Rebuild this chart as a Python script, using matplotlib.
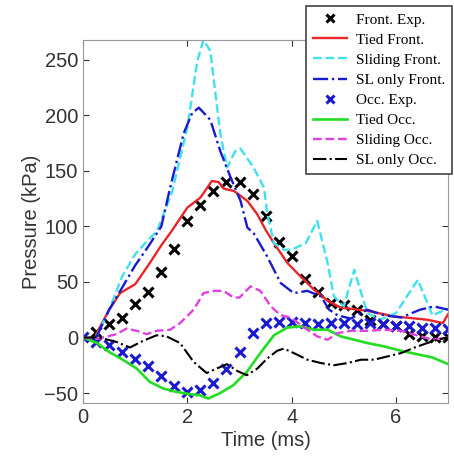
import numpy as np
import matplotlib.pyplot as plt

# experiment markers
exp_t = [0.25, 0.5, 0.75, 1.0, 1.25, 1.5, 1.75, 2.0, 2.25, 2.5, 2.75, 3.0, 3.25, 3.5,
         3.75, 4.0, 4.25, 4.5, 4.75, 5.0, 5.25, 5.5, 5.75, 6.0, 6.25, 6.5, 6.75, 7.0]
front_exp = [5, 12, 18, 30, 41, 59, 80, 105, 119, 132, 140, 140, 129, 109,
             86, 73, 53, 41, 31, 29, 25, 16, 12, 10, 3, 1, 0, 0]
occ_t = [0.0] + exp_t
occ_exp = [0, -4, -7, -13, -19, -26, -35, -44, -49, -47, -41, -28, -13, 4, 13,
           14, 14, 13, 12, 13, 13, 12, 13, 12, 10, 10, 9, 9, 8]

# simulations
tied_front_t = [0.25, 0.5, 0.71, 1.0, 1.25, 1.5, 1.7, 2.0, 2.25, 2.47, 2.6, 2.7, 2.89, 3.15,
                3.34, 3.5, 3.66, 3.92, 4.17, 4.43, 4.69, 4.94, 5.45, 5.97, 6.6, 6.9, 7.0]
tied_front = [3, 25, 40, 48, 65, 83, 96, 117, 126, 141, 140, 134, 132, 123,
              111, 97, 85, 67, 55, 43, 33, 27, 24, 19, 16, 13, 21]

slide_front_t = [0.25, 0.5, 0.75, 1.0, 1.25, 1.42, 1.7, 2.0, 2.19, 2.31, 2.44, 2.63, 2.76,
                 2.92, 3.02, 3.27, 3.47, 3.53, 3.66, 3.85, 4.0, 4.27, 4.49, 4.69, 4.81,
                 5.0, 5.2, 5.45, 5.7, 6.0, 6.42, 6.7, 7.0]
slide_front = [0, 25, 55, 75, 88, 96, 130, 189, 249, 268, 258, 184, 153,
               168, 170, 153, 135, 112, 85, 79, 79, 85, 105, 67, 37,
               28, 61, 22, 16, 22, 52, 20, 26]

sl_front_t = [0.25, 0.5, 0.75, 1.0, 1.25, 1.5, 1.67, 1.93, 2.09, 2.22, 2.44, 2.63, 2.83, 3.02,
              3.15, 3.27, 3.53, 3.79, 4.04, 4.3, 4.56, 4.72, 4.88, 5.13, 5.45, 5.77, 6.1,
              6.46, 6.73, 7.0]
sl_front = [0, 25, 45, 65, 82, 100, 135, 184, 202, 207, 196, 168, 144, 123,
            99, 94, 73, 49, 40, 42, 37, 25, 20, 17, 25, 20, 18,
            25, 28, 25]

tied_occ_t = [0.0, 0.27, 0.5, 0.76, 1.03, 1.28, 1.54, 1.79, 2.05, 2.24, 2.4, 2.63, 2.88, 3.14,
              3.4, 3.66, 3.92, 4.17, 4.43, 4.69, 4.94, 5.2, 5.45, 5.77, 6.1, 6.4, 6.7, 7.0]
tied_occ = [0, -5, -13, -20, -28, -40, -46, -49, -51, -52, -55, -50, -43, -31,
            -14, 2, 9, 10, 7, 7, 1, -2, -5, -8, -12, -15, -18, -24]

slide_occ_t = [0.0, 0.3, 0.64, 0.83, 1.03, 1.22, 1.41, 1.67, 1.86, 2.12, 2.31, 2.5, 2.69, 2.89,
               3.0, 3.21, 3.4, 3.6, 3.79, 3.98, 4.24, 4.49, 4.69, 4.88, 5.13, 5.45, 5.77,
               6.1, 6.4, 6.7, 7.0]
slide_occ = [0, -1, 3, 8, 6, 3, 6, 7, 13, 25, 40, 42, 42, 36,
             36, 46, 42, 28, 20, 18, 9, 1, -2, 4, 6, 6, 7,
             6, 2, -2, 0]

sl_occ_t = [0.0, 0.3, 0.64, 0.9, 1.15, 1.41, 1.6, 1.86, 2.12, 2.37, 2.56, 2.76, 2.95, 3.14,
            3.34, 3.53, 3.72, 3.85, 4.04, 4.3, 4.56, 4.81, 5.07, 5.33, 5.58, 5.84, 6.1,
            6.36, 6.6, 6.8, 7.0]
sl_occ = [0, 0, -4, -9, -3, 2, 1, -5, -22, -32, -28, -24, -30, -34,
          -28, -19, -12, -10, -14, -20, -23, -25, -23, -20, -20, -17, -14,
          -9, -5, -2, 0]

fig = plt.figure(figsize=(4.54, 4.59), dpi=100)
ax = fig.add_axes([0.183, 0.122, 0.804, 0.791])

ax.plot(exp_t, front_exp, 'x', color='black', ms=6.5, mew=2.2, label='Front. Exp.')
ax.plot(tied_front_t, tied_front, '-', color='#e8262a', lw=1.7, label='Tied Front.')
ax.plot(slide_front_t, slide_front, '--', color='#40e0f0', lw=1.7, label='Sliding Front.')
ax.plot(sl_front_t, sl_front, '-.', color='#1a1ad0', lw=1.7, label='SL only Front.')
ax.plot(occ_t, occ_exp, 'x', color='#1a1ad0', ms=6.5, mew=2.2, label='Occ. Exp.')
ax.plot(tied_occ_t, tied_occ, '-', color='#22dd22', lw=1.9, label='Tied Occ.')
ax.plot(slide_occ_t, slide_occ, '--', color='#e040e0', lw=1.7, label='Sliding Occ.')
ax.plot(sl_occ_t, sl_occ, '-.', color='black', lw=1.5, label='SL only Occ.')

ax.set_xlim(0, 7)
ax.set_ylim(-59, 268)
ax.set_xticks([0, 2, 4, 6])
ax.set_yticks([-50, 0, 50, 100, 150, 200, 250])
ax.tick_params(direction='in', top=True, right=True, labelsize=14.5, colors='#333333',
               length=4)
for lab in ax.get_xticklabels() + ax.get_yticklabels():
    lab.set_fontfamily('Liberation Sans')
for s in ax.spines.values():
    s.set_color('#999999')
ax.set_xlabel('Time (ms)', fontsize=14.5, family='Liberation Sans', color='#333333',
              labelpad=3)
ax.set_ylabel('Pressure (kPa)', fontsize=14.5, family='Liberation Sans', color='#333333',
              labelpad=2)

leg = fig.legend(loc='upper right', bbox_to_anchor=(452 / 454, 1 - 6 / 459),
                 prop={'family': 'Liberation Serif', 'size': 11},
                 fancybox=False, framealpha=1, edgecolor='#444444',
                 handlelength=2.2, labelspacing=0.42, borderpad=0.45,
                 handletextpad=0.6, markerscale=0.8, borderaxespad=0)
leg.get_frame().set_linewidth(1.2)

fig.savefig('out.png', dpi=100)
